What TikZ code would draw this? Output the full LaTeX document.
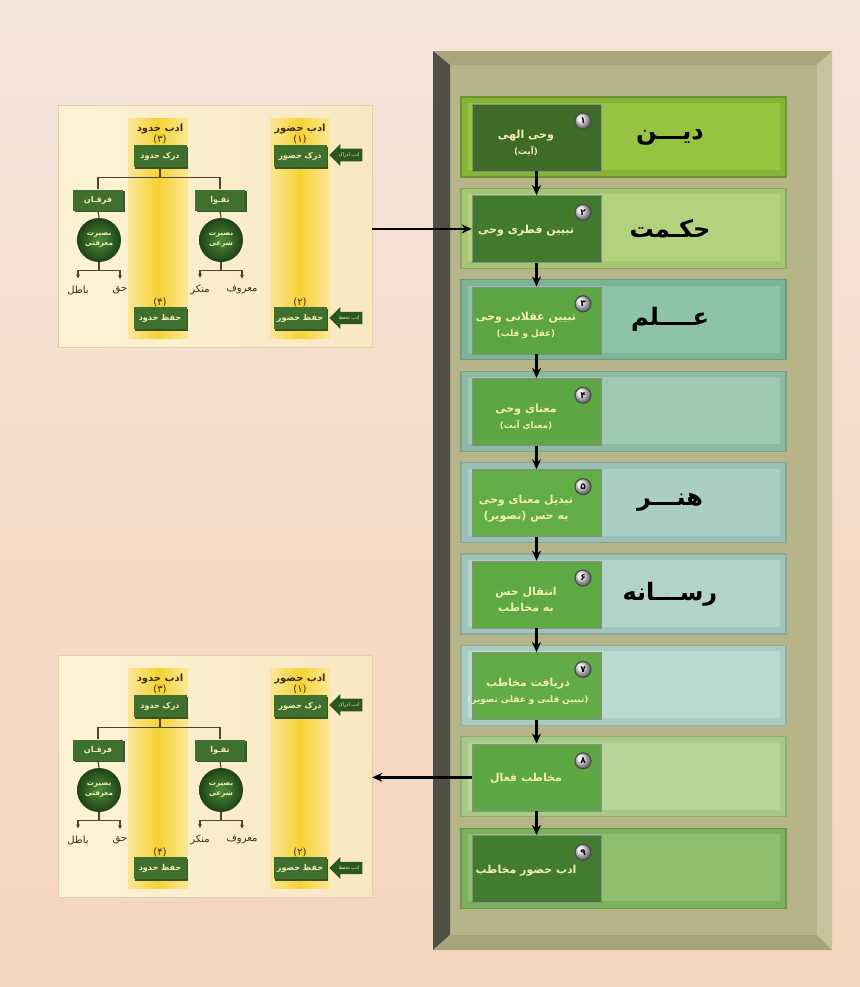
\documentclass[tikz,border=0pt]{standalone}
\usepackage{fontspec}
\usetikzlibrary{arrows.meta,shapes.arrows,shadows,positioning}
\newfontfamily\fa[Script=Arabic]{DejaVu Sans}
\TeXXeTstate=1
\newcommand{\rtl}[1]{\beginR #1\endR}
\newcommand{\subrtl}[1]{{\fontsize{4.4}{6}\selectfont\beginR #1\endR}}

\definecolor{bgtop}{HTML}{F5E4DA}
\definecolor{bgbot}{HTML}{F4D5BB}
\definecolor{frame}{HTML}{B8B48A}
\definecolor{frametop}{HTML}{A9A57D}
\definecolor{frameleft}{HTML}{4F4F46}
\definecolor{frameright}{HTML}{C6C29B}
\definecolor{framebot}{HTML}{A7A37A}
% row colours
\definecolor{face1}{HTML}{96C340}\definecolor{bevel1}{HTML}{86B237}\definecolor{edge1}{HTML}{6F9330}
\definecolor{face2}{HTML}{B2D27E}\definecolor{bevel2}{HTML}{A5C672}\definecolor{edge2}{HTML}{8AA85E}
\definecolor{face3}{HTML}{8EC4A6}\definecolor{bevel3}{HTML}{7DB497}\definecolor{edge3}{HTML}{6A9A80}
\definecolor{face4}{HTML}{9DC9B2}\definecolor{bevel4}{HTML}{8CBAA2}\definecolor{edge4}{HTML}{76A08A}
\definecolor{face5}{HTML}{A9CFC3}\definecolor{bevel5}{HTML}{98C0B4}\definecolor{edge5}{HTML}{82A69A}
\definecolor{face6}{HTML}{B1D3CA}\definecolor{bevel6}{HTML}{A0C4BA}\definecolor{edge6}{HTML}{88AAA0}
\definecolor{face7}{HTML}{BBDACF}\definecolor{bevel7}{HTML}{A9CBC0}\definecolor{edge7}{HTML}{90B0A6}
\definecolor{face8}{HTML}{B9D699}\definecolor{bevel8}{HTML}{A8C88A}\definecolor{edge8}{HTML}{8EAE72}
\definecolor{face9}{HTML}{8DBF6C}\definecolor{bevel9}{HTML}{7DB05E}\definecolor{edge9}{HTML}{67964C}
\definecolor{box1}{HTML}{3E6C28}\definecolor{box2}{HTML}{41792F}\definecolor{box3}{HTML}{5DA442}
\definecolor{box4}{HTML}{5EA643}\definecolor{box5}{HTML}{62AD46}\definecolor{box6}{HTML}{5FA944}
\definecolor{box7}{HTML}{61AC46}\definecolor{box8}{HTML}{5DA744}\definecolor{box9}{HTML}{427C31}
% side panels
\definecolor{panelL}{HTML}{FDF3D3}
\definecolor{panelR}{HTML}{F9E7C3}
\definecolor{stripmid}{HTML}{F6D232}
\definecolor{stripedge}{HTML}{FBE79A}
\definecolor{gboxfill}{HTML}{3F7030}
\definecolor{gdark}{HTML}{2C5620}
\definecolor{gtext}{HTML}{F3EEB4}
\definecolor{ballin}{HTML}{4F8C3C}
\definecolor{ballout}{HTML}{1E4315}
\definecolor{treeline}{HTML}{4A4630}
\definecolor{labtext}{HTML}{3A2E14}

\begin{document}
\begin{tikzpicture}[x=0.5pt, y=-0.5pt,
    innerbox/.style={rectangle, minimum width=64.5pt, minimum height=33.5pt, inner sep=0pt, draw=black!45, line width=0.3pt},
    badge/.style={circle, minimum size=8pt, inner sep=0pt, draw=black!70, line width=0.6pt, ball color=gray!20, font=\fa\bfseries\fontsize{4.5}{5}\selectfont},
    boxtext/.style={align=center, text=gtext, font=\fa\bfseries\fontsize{5.5}{8}\selectfont},
    rowlabel/.style={text=black, font=\fa\bfseries\fontsize{12}{14}\selectfont},
    flow/.style={-{Stealth[length=5pt, width=4.5pt]}, line width=1.3pt, black},
    panel/.style={rectangle, minimum width=157pt, minimum height=121pt, left color=panelL, right color=panelR, draw=panelR!90!black, line width=0.3pt},
    gbox/.style={rectangle, fill=gboxfill, text=gtext, minimum width=26.5pt, minimum height=11pt, inner sep=0pt, font=\fa\bfseries\fontsize{4}{5}\selectfont, drop shadow={shadow xshift=0.8pt, shadow yshift=-0.8pt, fill=gdark!80!black, opacity=0.9}},
    ball/.style={circle, minimum size=22pt, inner sep=0pt, inner color=ballin, outer color=ballout, text=gtext, align=center, font=\fa\bfseries\fontsize{3.6}{5}\selectfont},
    leftarrow/.style={single arrow, shape border rotate=180, minimum height=16.5pt, minimum width=11pt, single arrow head extend=1.5pt, inner sep=0.6pt, fill=gdark, text=gtext, font=\fa\fontsize{2.4}{3}\selectfont},
    panellabel/.style={text=labtext, font=\fa\bfseries\fontsize{5}{6}\selectfont},
    leaf/.style={text=labtext, font=\fa\fontsize{5}{6}\selectfont},
    tree/.style={draw=treeline, line width=0.6pt},
]
\useasboundingbox (0,0) rectangle (860,987);
\shade[top color=bgtop, bottom color=bgbot] (0,0) rectangle (860,987);

% frame
\fill[frame] (433,51) rectangle (832,950);
\fill[frametop] (433,51) -- (832,51) -- (817,65) -- (450,65) -- cycle;
\fill[frameleft] (433,51) -- (450,65) -- (450,935) -- (433,950) -- cycle;
\fill[frameright] (832,51) -- (832,950) -- (817,935) -- (817,65) -- cycle;
\fill[framebot] (433,950) -- (832,950) -- (817,935) -- (450,935) -- cycle;

% rows
\foreach \i/\d in {1/۱,2/۲,3/۳,4/۴,5/۵,6/۶,7/۷,8/۸,9/۹}{
  \pgfmathsetmacro\t{97+91.4*(\i-1)}
  \filldraw[fill=bevel\i, draw=edge\i, line width=0.6pt] (461,\t) rectangle (786,\t+80);
  \fill[face\i] (468,\t+6) rectangle (780,\t+73);
  \node[innerbox, fill=box\i] (box\i) at (536.5,\t+40.5) {};
  \node[badge] (num\i) at (583,\t+24) {\rtl{\d}};
}

\node[boxtext] (txt1) at (526,143) {\rtl{وحی الهی}\\\subrtl{(آیت)}};
\node[boxtext] (txt2) at (526,230.4) {\rtl{تبیین فطری وحی}};
\node[boxtext] (txt3) at (526,325.8) {\rtl{تبیین عقلانی وحی}\\\subrtl{(عقل و قلب)}};
\node[boxtext] (txt4) at (526,417.2) {\rtl{معنای وحی}\\\subrtl{(معنای آیت)}};
\node[boxtext] (txt5) at (526,508.6) {\rtl{تبدیل معنای وحی}\\\rtl{به حس (تصویر)}};
\node[boxtext] (txt6) at (526,600) {\rtl{انتقال حس}\\\rtl{به مخاطب}};
\node[boxtext] (txt7) at (528,691.4) {\rtl{دریافت مخاطب}\\\subrtl{(تبیین قلبی و عقلی تصویر)}};
\node[boxtext] (txt8) at (526,778.8) {\rtl{مخاطب فعال}};
\node[boxtext] (txt9) at (526,870.2) {\rtl{ادب حضور مخاطب}};

\node[rowlabel] (din) at (670,137) {\rtl{دیـــن}};
\node[rowlabel] (hekmat) at (670,228.4) {\rtl{حکـمت}};
\node[rowlabel] (elm) at (670,319.8) {\rtl{عــــلم}};
\node[rowlabel] (honar) at (670,502.6) {\rtl{هنـــر}};
\node[rowlabel] (resane) at (670,594) {\rtl{رســـانه}};

\foreach \i [evaluate=\i as \j using int(\i+1)] in {1,...,8}
  \draw[flow] (box\i.south) -- (box\j.north);

% side panels
\foreach \p/\dy in {A/0,B/550}{
\begin{scope}[shift={(0,\dy)}]
  \node[panel] (panel\p) at (215,226) {};
  \shade[left color=stripedge, right color=stripedge, middle color=stripmid] (128,118) rectangle (188,338);
  \shade[left color=stripedge, right color=stripedge, middle color=stripmid] (270,118) rectangle (330,338);

  \node[panellabel] (adabH\p) at (160,129) {\rtl{ادب حدود}};
  \node[leaf] at (160,139) {\rtl{(۳)}};
  \node[gbox] (hudud\p) at (160,156) {\rtl{درک حدود}};
  \node[leaf] at (160,302) {\rtl{(۴)}};
  \node[gbox] (hifzH\p) at (160,318) {\rtl{حفظ حدود}};

  \node[panellabel] (adabZ\p) at (300,129) {\rtl{ادب حضور}};
  \node[leaf] at (300,139) {\rtl{(۱)}};
  \node[gbox] (hozur\p) at (300,156) {\rtl{درک حضور}};
  \node[leaf] at (300,302) {\rtl{(۲)}};
  \node[gbox] (hifzZ\p) at (300,318) {\rtl{حفظ حضور}};

  \node[leftarrow] (idrak\p) at (349,155) {\rtl{ادب ادراک}};
  \node[leftarrow] (tahaffoz\p) at (349,318) {\rtl{ادب تحفظ}};

  \node[gbox, minimum width=25pt, minimum height=10.5pt] (furqan\p) at (98,200) {\rtl{فرقـان}};
  \node[gbox, minimum width=25pt, minimum height=10.5pt] (taqwa\p) at (220,200) {\rtl{تقـوا}};
  \node[ball] (basM\p) at (99,240) {\rtl{بصیرت}\\\rtl{معرفتی}};
  \node[ball] (basS\p) at (221,240) {\rtl{بصیرت}\\\rtl{شرعی}};

  \node[leaf] (batil\p) at (78,290) {\rtl{باطل}};
  \node[leaf] (haq\p) at (120,290) {\rtl{حق}};
  \node[leaf] (monkar\p) at (200,290) {\rtl{منکر}};
  \node[leaf] (maruf\p) at (242,290) {\rtl{معروف}};

  \draw[tree] (hudud\p.south) -- ++(0,10) coordinate (fork\p);
  \draw[tree] (fork\p) -| (furqan\p.north);
  \draw[tree] (fork\p) -| (taqwa\p.north);
  \draw[tree] (furqan\p.south) -- (basM\p.north);
  \draw[tree] (taqwa\p.south) -- (basS\p.north);
  \draw[tree] (basM\p.south) -- ++(0,8) coordinate (splitM\p);
  \draw[tree] (basS\p.south) -- ++(0,8) coordinate (splitS\p);
  \draw[tree, -{Stealth[length=2pt, width=2pt]}] (splitM\p) -| (batil\p.north);
  \draw[tree, -{Stealth[length=2pt, width=2pt]}] (splitM\p) -| (haq\p.north);
  \draw[tree, -{Stealth[length=2pt, width=2pt]}] (splitS\p) -| (monkar\p.north);
  \draw[tree, -{Stealth[length=2pt, width=2pt]}] (splitS\p) -| (maruf\p.north);
\end{scope}
}

\draw[flow] (panelA.east |- box2.west) -- (box2.west);
\draw[flow] (box8.west) -- (panelB.east |- box8.west);
\end{tikzpicture}
\end{document}
